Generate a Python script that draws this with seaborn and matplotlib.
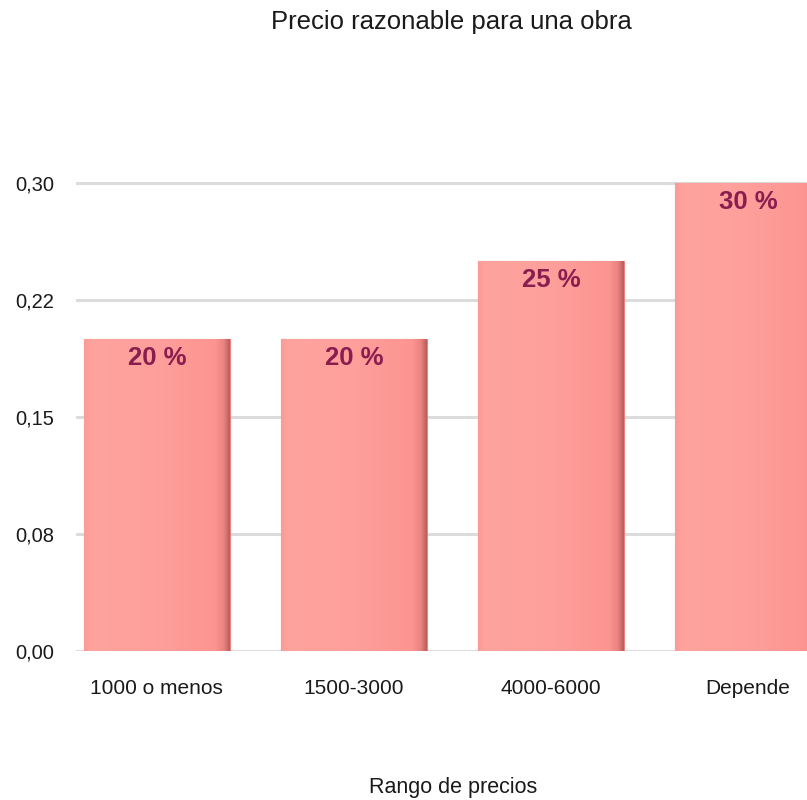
import numpy as np
import pandas as pd
import seaborn as sns
import matplotlib.pyplot as plt
from matplotlib.colors import LinearSegmentedColormap

# Survey data: share of answers per price range
categories = ["1000 o menos", "1500-3000", "4000-6000", "Depende"]
shares = [0.20, 0.20, 0.25, 0.30]
tick_values = [0.0, 0.075, 0.15, 0.225, 0.30]
tick_labels = ["0,00", "0,08", "0,15", "0,22", "0,30"]

df = pd.DataFrame({"rango": categories, "valor": shares})

sns.set_theme(style="white")
plt.rcParams["font.family"] = ["Liberation Sans", "DejaVu Sans"]

fig = plt.figure(figsize=(8.07, 8.0), dpi=100)
ax = fig.add_axes([76 / 807, 149 / 800, (807 - 76) / 807, 515 / 800])

sns.barplot(data=df, x="rango", y="valor", color="#FD9995", width=0.74,
            saturation=1, ax=ax, zorder=3)

ax.set_xlim(-0.41, 3.30)
ax.set_ylim(0, 0.33)
ax.set_yticks(tick_values)
ax.set_yticklabels(tick_labels)
ax.yaxis.grid(True, color="#dcdcdc", linewidth=2.2, zorder=0)
ax.xaxis.grid(False)
for s in ax.spines.values():
    s.set_visible(False)
ax.tick_params(axis="y", length=0, pad=16, labelsize=14.5, labelcolor="#1a1a1a")
ax.tick_params(axis="x", length=0, pad=20, labelsize=15, labelcolor="#1a1a1a")
ax.set_xlabel("")
ax.set_ylabel("")

# Soft horizontal shading on each bar with a thin darker right edge
cmap = LinearSegmentedColormap.from_list(
    "barshade",
    [(0.0, "#fc9a96"), (0.05, "#ffa39f"), (0.5, "#fe9f9b"),
     (0.9, "#fc9591"), (0.96, "#ea8481"), (1.0, "#b85e5c")])
grad = np.linspace(0, 1, 256).reshape(1, -1)
for bar in ax.patches:
    x0, y0 = bar.get_x(), bar.get_y()
    w, h = bar.get_width(), bar.get_height()
    im = ax.imshow(grad, extent=[x0, x0 + w, y0, y0 + h], aspect="auto",
                   cmap=cmap, zorder=3.5, interpolation="bicubic")
    im.set_clip_path(bar)
    bar.set_edgecolor("#e88582")
    bar.set_linewidth(0.8)

# Value labels inside the top of each bar
for i, v in enumerate(shares):
    ax.text(i, v - 0.012, f"{round(v * 100)} %", ha="center", va="center",
            fontsize=18.5, fontweight="bold", color="#8a1d4f", zorder=5)

fig.text(451 / 807, 1 - 22 / 800, "Precio razonable para una obra",
         ha="center", va="center", fontsize=18.5, color="#1a1a1a")
fig.text(453 / 807, 1 - 787 / 800, "Rango de precios",
         ha="center", va="center", fontsize=15.5, color="#1a1a1a")

fig.savefig("out.png", dpi=100, facecolor="white")
